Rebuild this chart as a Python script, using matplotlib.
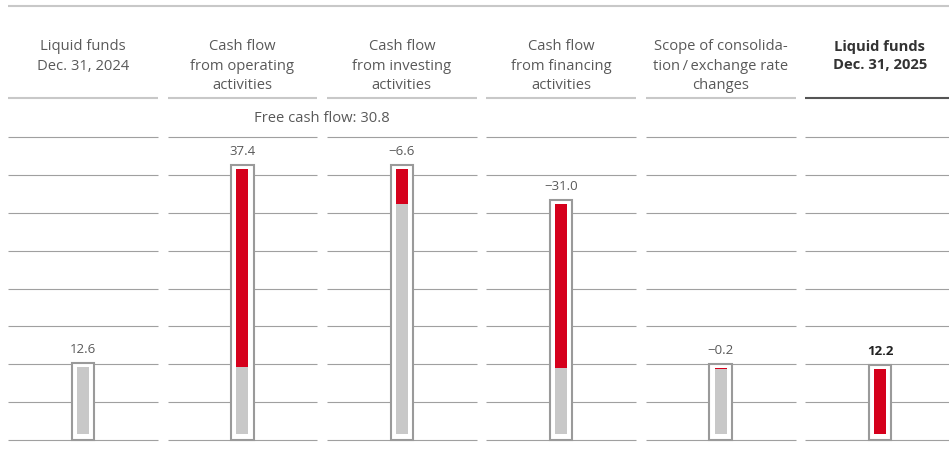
import matplotlib.pyplot as plt
from matplotlib.patches import Rectangle

plt.rcParams['font.family'] = ['Open Sans', 'DejaVu Sans']

# Waterfall of liquid funds (in billions)
headers = ['Liquid funds\nDec. 31, 2024',
           'Cash flow\nfrom operating\nactivities',
           'Cash flow\nfrom investing\nactivities',
           'Cash flow\nfrom financing\nactivities',
           'Scope of consolida-\ntion\u2009/\u2009exchange rate\nchanges',
           'Liquid funds\nDec. 31, 2025']
values = [12.6, 37.4, -6.6, -31.0, -0.2, 12.2]
value_labels = ['12.6', '37.4', '\u22126.6', '\u221231.0', '\u22120.2', '12.2']
is_total = [True, False, False, False, False, True]
free_cash_flow = 30.8

red = '#d5001c'
fill_gray = '#c8c8c8'
box_gray = '#9a9a9a'
grid_gray = '#a0a0a0'
head_gray = '#c8c8c8'
text_gray = '#595959'

fig = plt.figure(figsize=(9.49, 4.5), dpi=100)
xlim = (-0.521, 5.433)
half = 0.47

# header strip, y in pixels from the top
axh = fig.add_axes([0, 0, 1, 1])
axh.set_xlim(xlim)
axh.set_ylim(450, 0)
axh.axis('off')
axh.plot([-half, xlim[1]], [6, 6], color=head_gray, lw=1.5, solid_capstyle='butt')
for i, h in enumerate(headers):
    last = i == len(headers) - 1
    axh.plot([i - half, i + half], [98, 98], color='#555555' if last else head_gray,
             lw=1.5, solid_capstyle='butt')
    axh.text(i, 39.5, h, ha='center', va='top', fontsize=10.6, linespacing=1.38,
             color='#333333' if last else text_gray,
             fontweight='bold' if last else 'normal')
axh.text(1.5, 118, f'Free cash flow: {free_cash_flow}', ha='center', va='center',
         fontsize=10.6, color=text_gray)

# bar area
ax = fig.add_axes([0, 10 / 450, 1, 303 / 450])
ax.set_xlim(xlim)
ax.set_ylim(-1.132, 56.04)
ax.axis('off')
ax.patch.set_alpha(0)

tr = ax.get_xaxis_transform()
for i in range(len(values)):
    for k in range(9):
        ax.plot([i - half, i + half], [k / 8, k / 8], color=grid_gray, lw=0.8,
                transform=tr, solid_capstyle='butt', zorder=1, clip_on=False)

pad_top, pad_bot = 0.75, 1.132
box_w, bar_w = 0.14, 0.076
level = 0.0
for i, v in enumerate(values):
    if is_total[i]:
        start, end = 0.0, v
        lo, hi = 0.0, v
        gray_top = 0.0 if i == len(values) - 1 else v
        red_lo, red_hi = (0.0, v) if i == len(values) - 1 else (v, v)
    else:
        start, end = level, level + v
        lo, hi = min(start, end), max(start, end)
        gray_top = lo
        red_lo, red_hi = lo, hi
    level = end
    top = max(hi, gray_top)
    ax.add_patch(Rectangle((i - box_w / 2, -pad_bot), box_w, top + pad_top + pad_bot,
                           facecolor='white', edgecolor=box_gray, lw=1.5, zorder=2,
                           clip_on=False))
    if gray_top > 0:
        ax.add_patch(Rectangle((i - bar_w / 2, 0), bar_w, gray_top,
                               facecolor=fill_gray, lw=0, zorder=3))
    if red_hi > red_lo:
        ax.add_patch(Rectangle((i - bar_w / 2, red_lo), bar_w, red_hi - red_lo,
                               facecolor=red, lw=0, zorder=4))
    last = i == len(values) - 1
    ax.annotate(value_labels[i], (i, top + pad_top), xytext=(0, 5),
                textcoords='offset points', ha='center', va='bottom', fontsize=9.5,
                color='#222222' if last else text_gray,
                fontweight='bold' if last else 'normal', zorder=5)

fig.savefig('out.png', dpi=100)
